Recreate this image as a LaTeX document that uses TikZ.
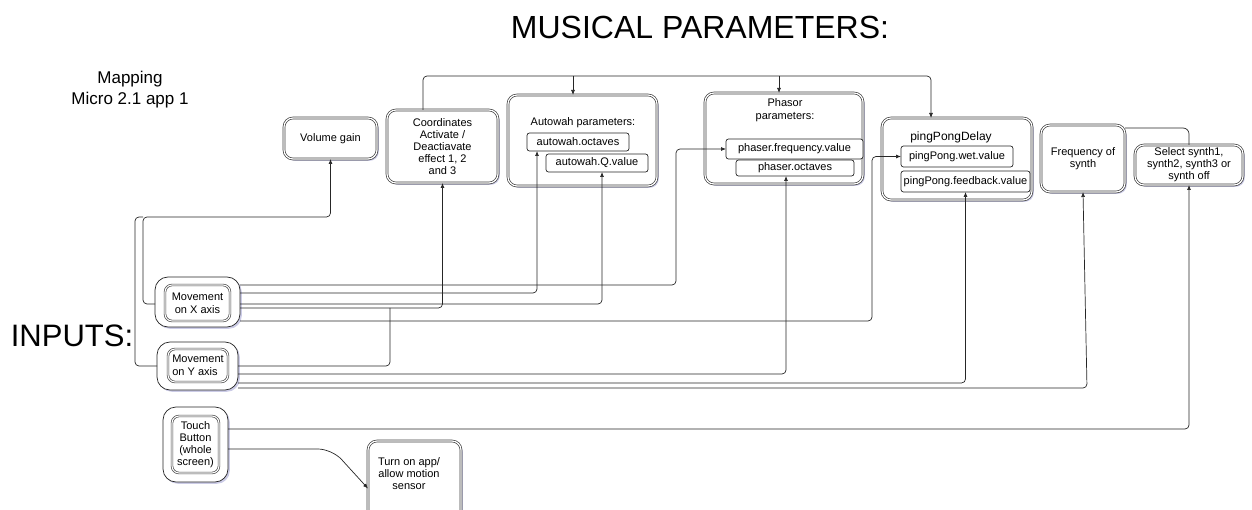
\documentclass[tikz,border=0pt]{standalone}
\usepackage{fontspec}
\setmainfont{Liberation Sans}
\usetikzlibrary{arrows.meta,shadows}
\begin{document}
\begin{tikzpicture}[x=1pt,y=-1pt,
  every node/.style={inner sep=0pt, outer sep=0pt},
  body/.style={font=\fontsize{11}{12}\selectfont},
  glow/.style={drop shadow={shadow xshift=1.8pt, shadow yshift=-1.8pt, fill=blue!35!gray!60, opacity=0.5}},
  dbox/.style={body, draw=black!75, line width=0.7pt, double=white, double distance=1.2pt,
    fill=white, rounded corners=9pt, anchor=north west, align=center, glow},
  sub/.style={body, draw=black!85, line width=0.7pt, fill=white, rounded corners=2.5pt,
    anchor=north west, align=center},
  outerbox/.style={draw=black!85, line width=0.7pt, fill=white, rounded corners=13pt,
    anchor=north west, glow},
  innerbox/.style={body, draw=black!75, line width=0.65pt, double=white, double distance=1.1pt,
    fill=white, rounded corners=7pt, anchor=north west, align=center},
  conn/.style={draw=black!85, line width=0.7pt, rounded corners=4pt},
  arr/.style={conn, -{Latex[length=5pt,width=4pt]}},
  title/.style={font=\fontsize{32}{36}\selectfont}
]
\useasboundingbox (0,0) rectangle (1252,510);

% headings
\node[title] (musical) at (700,27) {MUSICAL PARAMETERS:};
\node[font=\fontsize{31}{34}\selectfont] (inputs) at (72,336) {INPUTS:};
\node[font=\fontsize{17}{21}\selectfont, align=center] (mapping) at (130,90) {Mapping\\Micro 2.1 app 1};

% parameter boxes
\node[dbox, minimum width=93pt, minimum height=41pt] (vol) at (284,118) {Volume gain};
\node[dbox, minimum width=111pt, minimum height=73pt] (coord) at (387,110)
  {Coordinates\\Activate /\\Deactiavate\\effect 1, 2\\and 3};

\node[dbox, minimum width=149pt, minimum height=91pt] (aw) at (508,95) {};
\node[body] (awt) at (583,123) {Autowah parameters:};
\node[sub, minimum width=102pt, minimum height=18pt] (ao) at (527,133) {autowah.octaves};
\node[sub, minimum width=102pt, minimum height=18pt] (aq) at (546,154) {autowah.Q.value};

\node[dbox, minimum width=158pt, minimum height=91pt] (ph) at (705,93) {};
\node[body, align=center, font=\fontsize{11}{13}\selectfont] (pht) at (785,110) {Phasor\\parameters:};
\node[sub, minimum width=118pt, minimum height=16pt] (po) at (736,160) {phaser.octaves};
\node[sub, minimum width=137pt, minimum height=20pt] (pf) at (726,139) {phaser.frequency.value};

\node[dbox, minimum width=150pt, minimum height=82pt] (pp) at (882,118) {};
\node[font=\fontsize{12}{14}\selectfont] (ppt) at (951,137) {pingPongDelay};
\node[sub, minimum width=112pt, minimum height=21pt] (pw) at (901,146) {pingPong.wet.value};
\node[sub, minimum width=129pt, minimum height=21pt] (pfb) at (901,171) {pingPong.feedback.value};

\node[dbox, minimum width=84pt, minimum height=67pt] (fs) at (1041,125) {Frequency of\\synth};
\node[dbox, minimum width=108pt, minimum height=40pt] (ss) at (1135,145)
  {Select synth1,\\synth2, synth3 or\\synth off};

% input boxes
\node[outerbox, minimum width=85pt, minimum height=50pt] (mx) at (155,277) {};
\node[innerbox, minimum width=65pt, minimum height=36pt, font=\fontsize{11}{13}\selectfont] (mxi) at (165,285)
  {Movement\\on X axis};
\node[outerbox, minimum width=81pt, minimum height=48pt] (my) at (157,342) {};
\node[innerbox, minimum width=60pt, minimum height=33pt, align=left, font=\fontsize{11}{13}\selectfont] (myi) at (168,349)
  {Movement\\on Y axis};
\node[outerbox, minimum width=65pt, minimum height=75pt] (tb) at (163,407) {};
\node[innerbox, minimum width=47pt, minimum height=57pt] (tbi) at (172,416)
  {Touch\\Button\\(whole\\screen)};

\node[dbox, minimum width=93pt, minimum height=80pt] (ta) at (368,441) {};
\node[body, align=center] (tat) at (409,474) {Turn on app/\\allow motion\\sensor};

% junction points
\coordinate (jv) at (143,217);
\coordinate (jc) at (390,308);
\coordinate (busA) at (573,76);
\coordinate (busB) at (779,76);

% movement on X axis
\draw[arr] ([yshift=-2pt]mx.west) -| (jv) -| (vol.south);
\draw[arr] ([yshift=-6pt]mx.east) -| (coord.south);
\draw[arr] ([yshift=9pt]mx.east) -| ([xshift=-41pt]ao.south);
\draw[arr] ([yshift=-2pt]mx.east) -| ([xshift=5pt]aq.south);
\draw[arr] ([yshift=17pt]mx.east) -| (676,149) -- (pf.west);
\draw[arr] ([yshift=-19pt]mx.east) -| (872,156.5) -- (pw.west);

% movement on Y axis
\draw[conn] (my.west) -| (135,217) -- (jv);
\draw[conn] (my.east) -| (jc);
\draw[arr] ([yshift=-8pt]my.east) -| ([xshift=-9pt]po.south);
\draw[arr] ([yshift=-17pt]my.east) -| (pfb.south);
\draw[arr] ([yshift=-22pt]my.east) -- (1087,388) -- (fs.south);

% touch button
\draw[arr] ([yshift=15.5pt]tb.east) -| (ss.south);
\draw[arr, rounded corners=14pt] ([yshift=-4.5pt]tb.east) -- (332,449) -- ([yshift=-7.5pt]ta.west);

% effect switching bus
\draw[arr] ([xshift=-19.5pt]coord.north) -- ++(0,-34) -| ([xshift=-26pt]pp.north);
\draw[arr] (busA) -- ([xshift=-9.5pt]aw.north);
\draw[arr] (busB) -- ([xshift=-5pt]ph.north);

% synth frequency to synth select
\draw[conn, rounded corners=6pt] ([yshift=-3pt]fs.north east) -| (ss.north);
\end{tikzpicture}
\end{document}
